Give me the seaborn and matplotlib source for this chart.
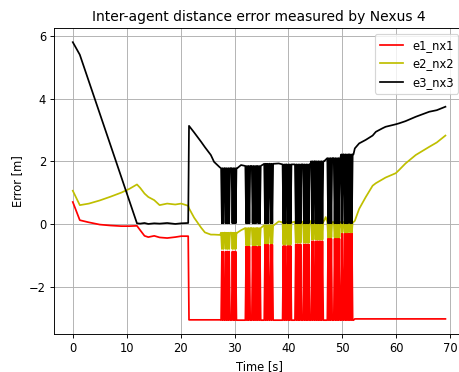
import pandas as pd
import matplotlib
import matplotlib.pyplot as plt
import seaborn as sns

# Set the matplotlib backend to Agg for headless environments
matplotlib.use('Agg')

# Steady stretch before the tag dropouts
t_pre = [0.0, 1.3, 3.0, 5.0, 7.0, 9.0, 10.5, 11.9, 12.5, 13.3, 14.0, 15.1,
         16.1, 17.5, 19.0, 20.1, 21.4, 21.55, 22.5, 23.8, 24.5, 25.6, 26.2, 27.3]
e1_pre = [0.7, 0.12, 0.05, -0.02, -0.05, -0.07, -0.07, -0.06, -0.2, -0.38, -0.42, -0.38,
          -0.43, -0.45, -0.42, -0.39, -0.39, -3.06, -3.06, -3.06, -3.06, -3.06, -3.06, -3.06]
e2_pre = [1.06, 0.6, 0.65, 0.75, 0.87, 1.0, 1.12, 1.26, 1.15, 0.97, 0.86, 0.76,
          0.6, 0.65, 0.62, 0.65, 0.58, 0.5, 0.2, -0.12, -0.27, -0.34, -0.34, -0.35]
e3_pre = [5.8, 5.4, 4.54, 3.52, 2.51, 1.49, 0.73, 0.02, 0.01, 0.03, 0.0, 0.02,
          0.01, 0.03, 0.0, 0.02, 0.03, 3.13, 2.92, 2.62, 2.45, 2.2, 1.98, 1.8]

# Dropout bursts, sampled every dt seconds: S = tag seen, L = tag lost
dt = 0.15
burst_start = [27.5, 32.0, 35.5, 38.9, 41.2, 44.2, 47.2, 49.8]
burst_state = [
    'SLSLSSLSLSLSSSLSLSLSS',
    'SLSLSLSSSLSLSLSSLSLS',
    'SLSLSLSSLSLSS',
    'SLSLSSLSLSLS',
    'SLSLSLSLSSSLSLSLSLSS',
    'SLSLSSLSLSLSLSLSS',
    'SLSLSLSSSLSLSLSLS',
    'SLSSLSLSLSSLSLSS',
]
e1_seen = [-3.07, -3.07, -3.07, -3.07, -3.07, -3.07, -3.07, -3.07]
e1_lost = [-0.88, -0.72, -0.66, -0.7, -0.65, -0.55, -0.47, -0.3]
e2_seen = [-0.28, -0.13, -0.04, 0.05, 0.07, 0.1, 0.06, 0.06]
e2_lost = [-0.8, -0.68, -0.62, -0.66, -0.6, -0.5, -0.43, -0.27]
e3_seen = [1.78, 1.85, 1.92, 1.9, 1.9, 2.0, 2.1, 2.22]
e3_lost = [0.02, 0.02, 0.02, 0.02, 0.02, 0.02, 0.02, 0.02]

# Holds between bursts (tag seen)
gap_t = [31.2, 38.2, 46.9]
e1_gap = [-3.07, -3.07, -3.07]
e2_gap = [-0.2, 0.08, 0.22]
e3_gap = [1.88, 1.93, 2.05]

# Steady stretch after the last burst
t_post = [52.3, 53.1, 54.3, 55.6, 56.2, 57.4, 58.0, 59.9, 60.5, 61.7, 63.6, 66.1, 67.5, 69.1]
e1_post = [-3.03, -3.03, -3.03, -3.03, -3.03, -3.03, -3.03, -3.03, -3.03, -3.03, -3.03,
           -3.03, -3.03, -3.03]
e2_post = [0.1, 0.48, 0.85, 1.22, 1.3, 1.42, 1.48, 1.62, 1.72, 1.93, 2.2, 2.46, 2.6, 2.82]
e3_post = [2.41, 2.57, 2.68, 2.82, 2.94, 3.05, 3.1, 3.18, 3.21, 3.28, 3.42, 3.58, 3.63, 3.74]

labels = ['e1_nx1', 'e2_nx2', 'e3_nx3']
colors = ['r', 'y', 'k']


def build(pre, seen, lost, gap, post):
    rows = list(zip(t_pre, pre))
    for t0, states, a, b in zip(burst_start, burst_state, seen, lost):
        for i, s in enumerate(states):
            rows.append((round(t0 + i * dt, 3), a if s == 'S' else b))
    rows += list(zip(gap_t, gap))
    rows += list(zip(t_post, post))
    rows.sort()
    return pd.DataFrame(rows, columns=['Time', 'Error'])


series = [
    build(e1_pre, e1_seen, e1_lost, e1_gap, e1_post),
    build(e2_pre, e2_seen, e2_lost, e2_gap, e2_post),
    build(e3_pre, e3_seen, e3_lost, e3_gap, e3_post),
]

dpi = 83
fig = plt.figure(figsize=(459 / dpi, 372 / dpi), dpi=dpi)
# the original figure is cut off on the right, so the axes run past the edge
ax = fig.add_axes([0.118, 0.102, 0.893, 0.822])

for df, lab, col in zip(series, labels, colors):
    sns.lineplot(data=df, x='Time', y='Error', color=col, label=lab,
                 estimator=None, sort=False, ax=ax)

ax.grid(True)
ax.spines['right'].set_visible(False)
ax.set_title('Inter-agent distance error measured by Nexus 4')
ax.set_xlabel('Time [s]')
ax.set_ylabel('Error [m]')
ax.legend(loc='upper right')

fig.savefig('out.png', dpi=dpi)
